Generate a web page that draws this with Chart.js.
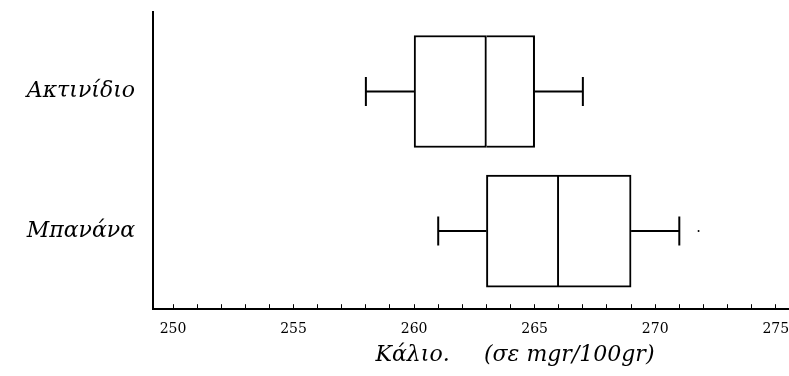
<!DOCTYPE html>
<html>
<head>
<meta charset="utf-8">
<script src="https://cdn.jsdelivr.net/npm/chart.js@4/dist/chart.umd.min.js"></script>
<style>
  html, body { margin: 0; padding: 0; background: #fff; }
  #wrap { width: 789px; height: 376px; }
</style>
</head>
<body>
<div id="wrap"><canvas id="chart"></canvas></div>
<script>
// box plot data
const categories = ["Ακτινίδιο", "Μπανάνα"];
const whiskerMin = [258, 261];
const q1 = [260, 263];
const median = [263, 266];
const q3 = [265, 269];
const whiskerMax = [267, 271];
const outliers = [[], [271.8]];
const xTickLabels = [250, 255, 260, 265, 270, 275];
const axisTitle = ["Κάλιο.", "(σε mgr/100gr)"];

// category i sits at y = i + 1 on a linear axis
const pos = (i) => i + 1;

const boxLow = categories.map((c, i) => ({ y: pos(i), x: [q1[i], median[i]] }));
const boxHigh = categories.map((c, i) => ({ y: pos(i), x: [median[i], q3[i]] }));

// whiskers: min -> q1, gap, q3 -> max
const whiskerSets = categories.map((c, i) => ({
  type: "line",
  data: [
    { x: whiskerMin[i], y: pos(i) },
    { x: q1[i], y: pos(i) },
    { x: null, y: pos(i) },
    { x: q3[i], y: pos(i) },
    { x: whiskerMax[i], y: pos(i) },
  ],
  borderColor: "#000",
  borderWidth: 2,
  pointRadius: 0,
  spanGaps: false,
  fill: false,
}));

const caps = [];
categories.forEach((c, i) => {
  caps.push({ x: whiskerMin[i], y: pos(i) });
  caps.push({ x: whiskerMax[i], y: pos(i) });
});

const outlierPoints = [];
categories.forEach((c, i) => {
  outliers[i].forEach((v) => outlierPoints.push({ x: v, y: pos(i) }));
});

const boxStyle = {
  type: "bar",
  indexAxis: "y",
  backgroundColor: "#fff",
  borderColor: "#000",
  borderSkipped: false,
  barThickness: 112,
  grouped: false,
};

// axis title under the x axis
const axisTitlePlugin = {
  id: "axisTitle",
  afterDraw(chart) {
    const { ctx, scales } = chart;
    ctx.save();
    ctx.font = 'italic 22px "DejaVu Serif"';
    ctx.fillStyle = "#000";
    ctx.textBaseline = "middle";
    ctx.textAlign = "left";
    const y = chart.height - 21;
    ctx.fillText(axisTitle[0], scales.x.getPixelForValue(258.4), y);
    ctx.fillText(axisTitle[1], scales.x.getPixelForValue(262.9), y);
    ctx.restore();
  },
};

new Chart(document.getElementById("chart"), {
  data: {
    datasets: [
      { ...boxStyle, data: boxLow, borderWidth: { top: 2, bottom: 2, left: 2, right: 2 } },
      { ...boxStyle, data: boxHigh, borderWidth: { top: 2, bottom: 2, left: 0, right: 2 } },
      ...whiskerSets,
      {
        type: "scatter",
        data: caps,
        pointStyle: "line",
        rotation: 90,
        pointRadius: 14.5,
        borderColor: "#000",
        borderWidth: 2,
      },
      {
        type: "scatter",
        data: outlierPoints,
        pointRadius: 1,
        backgroundColor: "#000",
        borderWidth: 0,
      },
    ],
  },
  options: {
    responsive: true,
    maintainAspectRatio: false,
    animation: false,
    layout: { autoPadding: false, padding: { top: 12, bottom: 21, left: 0, right: 0 } },
    plugins: {
      legend: { display: false },
      tooltip: { enabled: false },
    },
    scales: {
      x: {
        type: "linear",
        position: "bottom",
        min: 249.17,
        max: 275.55,
        afterFit: (scale) => {
          scale.paddingLeft = 0;
          scale.paddingRight = 0;
        },
        ticks: {
          stepSize: 1,
          includeBounds: false,
          autoSkip: false,
          maxRotation: 0,
          padding: 17,
          color: "#000",
          font: { family: "DejaVu Serif", size: 14 },
          callback: (v) => (xTickLabels.includes(v) ? String(v) : ""),
        },
        grid: {
          drawOnChartArea: false,
          drawTicks: true,
          tickLength: -5,
          color: "#000",
          lineWidth: 1,
        },
        border: { color: "#000", width: 2 },
      },
      y: {
        type: "linear",
        position: "left",
        reverse: true,
        offset: false,
        min: 0.43,
        max: 2.56,
        afterFit: (scale) => {
          scale.width = 153;
          scale.paddingTop = 0;
          scale.paddingBottom = 0;
        },
        afterBuildTicks: (scale) => {
          scale.ticks = categories.map((c, i) => ({ value: pos(i) }));
        },
        ticks: {
          padding: 18,
          color: "#000",
          font: { family: "DejaVu Serif", size: 22, style: "italic" },
          callback: (v, i) => categories[i],
        },
        grid: { display: false, drawTicks: false },
        border: { color: "#000", width: 2 },
      },
    },
  },
  plugins: [axisTitlePlugin],
});
</script>
</body>
</html>
